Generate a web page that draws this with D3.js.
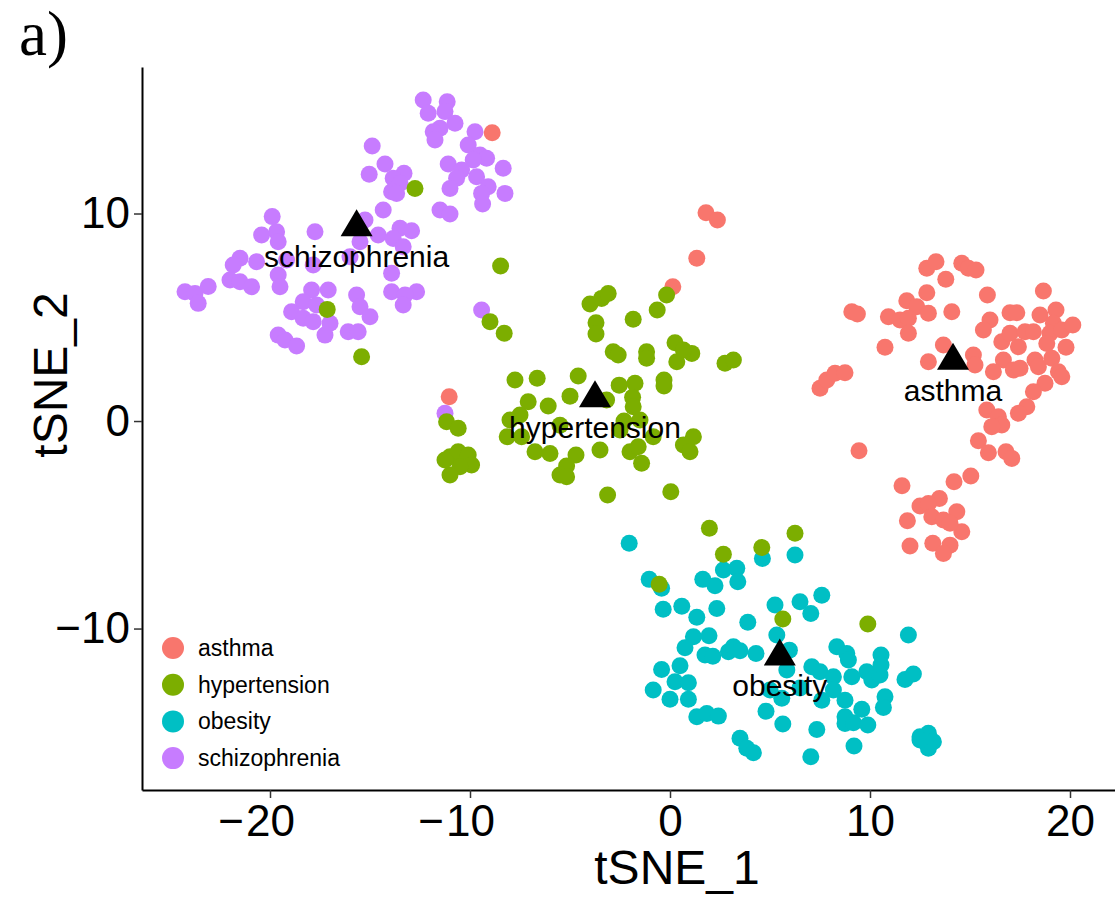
<!DOCTYPE html>
<html>
<head>
<meta charset="utf-8">
<script src="https://cdn.jsdelivr.net/npm/d3@7"></script>
<style>
  body { margin: 0; background: #fff; }
  svg { display: block; font-family: "Liberation Sans", Arial, Helvetica, sans-serif; }
</style>
</head>
<body>
<div id="chart-area"></div>
<script>
// categories and colours (ggplot default hue palette)
const categories = ['asthma', 'hypertension', 'obesity', 'schizophrenia'];
const colors = ['#F8766D', '#7CAE00', '#00BFC4', '#C77CFF'];

const xTicks = [-20, -10, 0, 10, 20];
const yTicks = [-10, 0, 10];

// tSNE coordinates, [tSNE_1, tSNE_2]
const asthma = [
  [-8.89, 13.89], [1.8, 10.04], [2.37, 9.69], [1.34, 7.84], [0.14, 6.47], [-11.04, 1.17],
  [12.84, 7.36], [13.3, 7.68], [14.59, 7.6], [14.92, 7.36], [15.3, 7.28], [13.79, 6.83],
  [12.84, 6.18], [11.84, 5.8], [12.34, 5.51], [12.92, 5.19], [14.09, 5.27], [15.87, 6.07],
  [18.67, 6.27], [9.09, 5.27], [9.37, 5.16], [10.92, 5.03], [11.5, 4.87], [11.92, 4.95],
  [11.92, 4.23], [10.75, 3.55], [13.67, 3.66], [12.92, 2.86], [15.17, 3.18], [15.25, 2.7],
  [16.0, 4.87], [15.67, 4.39], [17.0, 5.22], [17.34, 5.22], [16.59, 3.82], [17.0, 4.23],
  [17.42, 3.58], [17.75, 4.3], [18.17, 4.3], [18.5, 5.11], [19.3, 5.35], [19.17, 4.71],
  [19.0, 4.23], [18.84, 3.74], [19.59, 4.39], [20.14, 4.63], [19.8, 3.55], [16.67, 2.94],
  [17.17, 2.46], [16.17, 2.38], [17.5, 2.54], [18.25, 2.94], [18.42, 2.62], [19.09, 3.02],
  [19.42, 2.38], [19.59, 2.13], [18.75, 1.82], [18.17, 1.41], [17.84, 0.69], [17.42, 0.37],
  [15.84, 0.53], [16.42, 0.21], [16.59, -0.19], [16.09, -0.27], [15.42, -0.95], [15.92, -1.53],
  [16.8, -1.48], [17.09, -1.8], [7.5, 1.58], [7.84, 1.98], [8.25, 2.3], [8.75, 2.33],
  [9.45, -1.43], [15.04, -2.65], [14.2, -2.93], [11.6, -3.12], [13.47, -3.73], [12.5, -4.1],
  [12.92, -3.97], [13.09, -4.61], [13.67, -4.77], [14.34, -4.37], [14.59, -5.33], [14.0, -4.93],
  [11.87, -4.8], [12.0, -6.02], [13.14, -5.89], [14.0, -5.98], [13.67, -6.38]
];

const hypertension = [
  [-12.75, 11.21], [-17.14, 5.38], [-8.47, 7.47], [-9.0, 4.79], [-8.29, 4.23], [-15.42, 3.1],
  [-4.0, 5.64], [-3.42, 5.91], [-3.09, 6.15], [-0.17, 6.07], [-0.64, 5.35], [-1.84, 4.9],
  [-3.7, 4.74], [-3.7, 4.19], [0.25, 3.77], [-2.84, 3.34], [-2.59, 3.18], [-1.17, 3.34],
  [-1.17, 3.02], [1.09, 3.26], [0.34, 2.86], [0.67, 3.42], [2.75, 2.78], [3.17, 2.94],
  [-7.75, 1.98], [-6.64, 2.06], [-4.59, 2.17], [-5.0, 1.2], [-2.54, 1.73], [-1.75, 1.82],
  [-0.3, 1.98], [-0.3, 1.69], [-1.87, 1.14], [-1.84, 0.69], [-3.17, 1.01], [-7.09, 0.93],
  [-6.09, 0.72], [-7.5, 0.29], [-8.0, 0.05], [-8.14, -0.76], [-7.42, -0.76], [-11.17, -0.03],
  [-10.59, -0.35], [-1.5, 0.05], [-0.84, -0.76], [1.17, -0.76], [0.67, -1.16], [1.0, -1.48],
  [-3.5, -1.4], [-6.75, -1.48], [-6.0, -1.56], [-4.7, -1.64], [-5.17, -2.17], [-5.5, -2.6],
  [-5.17, -2.68], [-2.0, -1.48], [-1.59, -1.24], [-1.42, -2.04], [-11.0, -1.72], [-10.59, -1.48],
  [-10.09, -1.64], [-9.92, -2.12], [-10.5, -2.2], [-11.0, -2.6], [-11.25, -1.88], [-3.12, -3.57],
  [0.04, -3.41], [1.97, -5.17], [6.25, -5.41], [4.59, -6.09], [2.67, -6.42], [-0.54, -7.86],
  [5.64, -9.54], [9.89, -9.78], [-5.5, -0.2], [-2.5, -0.43], [-2.3, 0.0]
];

const obesity = [
  [-2.04, -5.89], [6.25, -6.46], [4.62, -6.62], [2.67, -7.18], [3.34, -7.1], [3.39, -7.74],
  [-1.04, -7.63], [-0.42, -8.06], [1.64, -7.63], [2.25, -7.94], [-0.34, -9.07], [0.59, -8.92],
  [1.34, -9.46], [2.34, -9.03], [3.89, -9.7], [5.25, -8.87], [6.5, -8.71], [7.04, -9.27],
  [7.59, -8.39], [5.34, -10.31], [1.17, -10.4], [1.95, -10.35], [0.75, -10.93], [1.75, -11.28],
  [2.14, -11.33], [2.92, -11.12], [3.17, -10.88], [3.5, -11.07], [4.3, -11.2], [5.97, -11.04],
  [-0.42, -11.97], [0.5, -11.79], [0.25, -12.56], [0.92, -12.61], [-0.84, -12.96], [0.0, -13.41],
  [0.92, -13.41], [1.34, -14.25], [1.84, -14.09], [2.42, -14.22], [4.8, -13.98], [5.64, -14.6],
  [5.59, -13.36], [5.84, -12.0], [7.09, -11.84], [7.5, -12.08], [8.34, -10.88], [8.84, -11.2],
  [8.92, -11.52], [8.17, -12.32], [9.09, -12.32], [9.84, -12.08], [10.09, -12.48], [10.5, -12.24],
  [10.55, -11.28], [10.55, -11.76], [11.92, -10.31], [11.75, -12.45], [12.17, -12.19], [10.75, -13.29],
  [10.67, -13.8], [8.17, -12.96], [8.75, -13.45], [7.59, -13.45], [8.75, -14.25], [8.75, -14.57],
  [9.17, -14.54], [9.59, -13.89], [9.89, -14.65], [7.34, -14.86], [3.5, -15.29], [3.84, -15.77],
  [4.17, -15.99], [7.04, -16.18], [9.2, -15.66], [12.5, -15.21], [12.92, -15.05], [13.17, -15.46],
  [12.92, -15.77], [12.5, -15.37], [5.0, -12.96], [6.5, -12.87]
];

const schizophrenia = [
  [-12.34, 15.47], [-11.14, 15.39], [-12.09, 14.83], [-11.25, 14.91], [-10.75, 14.35], [-11.5, 14.11],
  [-11.84, 13.94], [-11.75, 13.54], [-9.75, 13.94], [-10.09, 13.3], [-9.5, 12.82], [-9.17, 12.66],
  [-9.84, 12.58], [-11.09, 12.39], [-8.34, 12.18], [-10.42, 12.1], [-10.67, 11.7], [-9.67, 11.77],
  [-11.0, 11.21], [-9.09, 11.29], [-9.42, 10.97], [-8.25, 10.97], [-9.37, 10.46], [-11.5, 10.17],
  [-11.0, 9.98], [-14.89, 13.25], [-14.25, 12.39], [-15.04, 11.89], [-13.3, 11.94], [-13.84, 11.7],
  [-13.5, 11.46], [-13.92, 11.05], [-13.67, 10.97], [-14.34, 10.17], [-15.25, 9.69], [-14.59, 8.96],
  [-13.5, 9.29], [-12.92, 9.17], [-13.84, 8.8], [-15.5, 8.64], [-13.34, 8.4], [-13.92, 7.12],
  [-13.92, 6.23], [-12.67, 6.23], [-13.25, 6.07], [-13.34, 5.59], [-15.67, 6.07], [-15.5, 5.51],
  [-15.0, 5.03], [-19.89, 9.85], [-20.42, 8.96], [-19.67, 9.12], [-19.59, 8.64], [-17.75, 9.12],
  [-21.5, 7.84], [-21.84, 7.52], [-20.67, 7.68], [-19.17, 7.76], [-17.84, 7.52], [-19.59, 7.04],
  [-19.5, 6.47], [-22.0, 6.8], [-21.5, 6.71], [-20.92, 6.47], [-23.09, 6.48], [-24.25, 6.23],
  [-23.75, 6.15], [-23.59, 5.67], [-17.92, 6.31], [-17.09, 6.31], [-18.34, 5.75], [-18.92, 5.27],
  [-18.34, 4.95], [-17.84, 4.79], [-17.67, 5.59], [-17.0, 4.71], [-17.25, 4.14], [-19.59, 4.14],
  [-19.25, 3.9], [-18.67, 3.61], [-16.09, 4.3], [-15.59, 4.3], [-9.42, 5.35], [-11.25, 0.37],
  [-16.0, 7.92]
];

// cluster centres (triangles)
const centroids = [
  [14.15, 3.12], [-3.75, 1.32], [5.49, -11.13], [-15.67, 9.56]
];

const series = [asthma, hypertension, obesity, schizophrenia];
// draw order as in the picture: purple, cyan, red, green on top
const drawOrder = [3, 2, 0, 1];

let margin = { left: 142, right: 0, top: 67, bottom: 111 };
let width = 1115 - margin.left - margin.right;
let height = 901 - margin.top - margin.bottom;

const svg = d3.select('#chart-area').append('svg')
  .attr('width', 1115)
  .attr('height', 901);

let g = svg.append('g')
  .attr('transform', 'translate(' + margin.left + ', ' + margin.top + ')');

let x = d3.scaleLinear()
  .domain([-26.4, 22.25])
  .range([0, width]);

let y = d3.scaleLinear()
  .domain([-17.78, 17.06])
  .range([height, 0]);

let color = d3.scaleOrdinal().domain(categories).range(colors);

// points
drawOrder.forEach(i => {
  g.append('g')
    .selectAll('circle')
    .data(series[i])
    .enter()
    .append('circle')
      .attr('cx', d => x(d[0]))
      .attr('cy', d => y(d[1]))
      .attr('r', 8.5)
      .attr('fill', color(categories[i]));
});

// triangles at the cluster centres
g.selectAll('path.centre')
  .data(centroids)
  .enter()
  .append('path')
    .attr('class', 'centre')
    .attr('d', d => {
      let cx = x(d[0]), cy = y(d[1]);
      return 'M' + cx + ',' + (cy - 13.5) + 'L' + (cx + 16) + ',' + (cy + 13.5)
        + 'L' + (cx - 16) + ',' + (cy + 13.5) + 'Z';
    })
    .attr('fill', '#000');

g.selectAll('text.centre-label')
  .data(centroids)
  .enter()
  .append('text')
    .attr('class', 'centre-label')
    .attr('x', d => x(d[0]))
    .attr('y', d => y(d[1]) + 34)
    .attr('dy', '0.35em')
    .attr('text-anchor', 'middle')
    .attr('font-size', '30px')
    .attr('fill', '#000')
    .text((d, i) => categories[i]);

// axes
let xAxisCall = d3.axisBottom(x)
  .tickValues(xTicks)
  .tickSize(8)
  .tickSizeOuter(0)
  .tickPadding(7)
  .tickFormat(d => Math.abs(d));
let xAxis = g.append('g')
  .attr('class', 'x-axis')
  .attr('transform', 'translate(0, ' + height + ')')
  .call(xAxisCall);

let yAxisCall = d3.axisLeft(y)
  .tickValues(yTicks)
  .tickSize(8)
  .tickSizeOuter(0)
  .tickPadding(4)
  .tickFormat(d => d < 0 ? '\u2212' + Math.abs(d) : d);
let yAxis = g.append('g')
  .attr('class', 'y-axis')
  .call(yAxisCall);

[xAxis, yAxis].forEach(a => {
  a.select('.domain').attr('stroke', '#000').attr('stroke-width', 2);
  a.selectAll('.tick line').attr('stroke', '#333').attr('stroke-width', 1.5);
  a.selectAll('.tick text')
    .attr('font-size', '44px')
    .attr('fill', '#000')
    .attr('font-family', '"Liberation Sans", Arial, Helvetica, sans-serif');
});

// x labels: digits centred on the tick, minus sign hanging to the left
xAxis.selectAll('.tick').each(function(d) {
  if (d >= 0) return;
  let t = d3.select(this).select('text');
  let w = t.node().getComputedTextLength();
  d3.select(this).append('text')
    .attr('x', -w / 2 - 2)
    .attr('y', t.attr('y'))
    .attr('dy', t.attr('dy'))
    .attr('text-anchor', 'end')
    .attr('font-size', '44px')
    .attr('fill', '#000')
    .text('\u2212');
});

// axis titles
svg.append('text')
  .attr('x', 677)
  .attr('y', 884)
  .attr('font-size', '48px')
  .attr('text-anchor', 'middle')
  .text('tSNE_1');

svg.append('text')
  .attr('transform', 'translate(67, 375) rotate(-90)')
  .attr('font-size', '48px')
  .attr('text-anchor', 'middle')
  .text('tSNE_2');

// panel tag
svg.append('text')
  .attr('x', 19)
  .attr('y', 55)
  .attr('font-size', '63px')
  .attr('font-family', '"Liberation Serif", "Times New Roman", serif')
  .text('a)');

// legend
let legend = svg.append('g')
  .attr('transform', 'translate(173, 648)');

let rows = legend.selectAll('g')
  .data(categories)
  .enter()
  .append('g')
    .attr('transform', (d, i) => 'translate(0, ' + (i * 36.7) + ')');

rows.append('circle')
  .attr('r', 11)
  .attr('fill', d => color(d));

rows.append('text')
  .attr('x', 25)
  .attr('dy', '0.35em')
  .attr('font-size', '23px')
  .text(d => d);
</script>
</body>
</html>
